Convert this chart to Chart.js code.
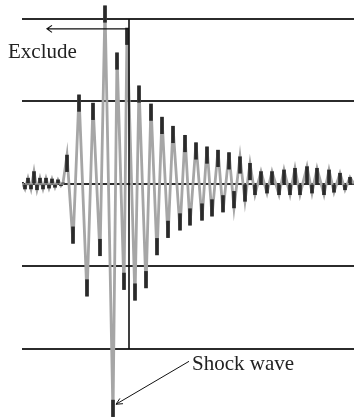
<!DOCTYPE html>
<html>
<head>
<meta charset="utf-8">
<style>
  html, body { margin: 0; padding: 0; background: #fff; }
  #wrap { width: 354px; height: 420px; position: relative; }
</style>
<script src="https://cdn.jsdelivr.net/npm/chart.js@4/dist/chart.umd.min.js"></script>
</head>
<body>
<div id="wrap"><canvas id="c" width="354" height="420"></canvas></div>
<script>
// Time of each turning point of the recorded oscillation
const sampleTimes = [
  0, 3, 6, 9, 12, 15, 18, 21, 24, 27, 30, 33, 36, 39, 41,
  45, 51, 57, 65, 71, 78, 83, 91, 95, 102, 105, 113, 117, 124, 129,
  135, 140, 146, 151, 158, 163, 168, 174, 180, 185, 190, 196, 201, 207, 212,
  218, 223, 228, 233, 239, 245, 250, 257, 262, 268, 273, 278, 285, 290, 295,
  302, 307, 312, 318, 323, 328, 332
];
// Amplitude at each turning point (one grid division = 1)
const amplitudes = [
  0.02, -0.06, 0.07, -0.06, 0.15, -0.07, 0.07, -0.06, 0.07, -0.05, 0.06, -0.04, 0.05, -0.02, 0.01,
  0.35, -0.72, 1.08, -1.36, 0.98, -0.87, 2.16, -2.82, 1.59, -1.28, 1.89, -1.41, 1.19, -1.26, 0.97,
  -0.86, 0.81, -0.65, 0.70, -0.56, 0.59, -0.50, 0.50, -0.44, 0.45, -0.39, 0.41, -0.34, 0.38, -0.29,
  0.33, -0.21, 0.25, -0.13, 0.15, -0.11, 0.15, -0.13, 0.17, -0.13, 0.19, -0.13, 0.21, -0.11, 0.19,
  -0.13, 0.17, -0.10, 0.13, -0.07, 0.08, 0.00
];
// Horizontal reference lines
const gridLevels = [-2, -1, 0, 1, 2];
// Cut-off marker between the excluded part and the rest of the record
const cutoffTime = 107;
const cutoffSpan = [2, -2];
// Annotation texts
const excludeLabel = 'Exclude';
const shockLabel = 'Shock wave';

const wavePoints = sampleTimes.map((t, i) => ({ x: t, y: amplitudes[i] }));
// Dark tips where the trace turns around
const TIP = 0.2;
const tipBars = sampleTimes.map((t, i) => {
  const v = amplitudes[i];
  const inner = v - Math.sign(v) * Math.min(TIP, Math.abs(v));
  return { x: t, y: [inner, v] };
});

const annotate = {
  id: 'annotate',
  afterDatasetsDraw(chart) {
    const { ctx } = chart;
    const X = v => chart.scales.x.getPixelForValue(v);
    const Y = v => chart.scales.y.getPixelForValue(v);
    ctx.save();
    ctx.strokeStyle = '#111';
    ctx.fillStyle = '#222';
    ctx.lineWidth = 1.2;

    // "Exclude" arrow pointing back from the cut-off
    const ay = Y(1.88);
    const ax0 = X(cutoffTime), ax1 = X(25);
    ctx.beginPath();
    ctx.moveTo(ax0, ay); ctx.lineTo(ax1, ay);
    ctx.moveTo(ax1 + 5, ay - 3.5); ctx.lineTo(ax1, ay); ctx.lineTo(ax1 + 5, ay + 3.5);
    ctx.stroke();

    // "Shock wave" arrow pointing at the downward spike
    const sx0 = X(167), sy0 = Y(-2.15);
    const sx1 = X(94), sy1 = Y(-2.67);
    ctx.lineWidth = 1;
    ctx.beginPath();
    ctx.moveTo(sx0, sy0); ctx.lineTo(sx1, sy1);
    const ang = Math.atan2(sy0 - sy1, sx0 - sx1);
    const hl = 7;
    ctx.moveTo(sx1 + hl * Math.cos(ang - 0.45), sy1 + hl * Math.sin(ang - 0.45));
    ctx.lineTo(sx1, sy1);
    ctx.lineTo(sx1 + hl * Math.cos(ang + 0.45), sy1 + hl * Math.sin(ang + 0.45));
    ctx.stroke();

    ctx.font = '21px "Liberation Serif", "Times New Roman", serif';
    ctx.textBaseline = 'alphabetic';
    ctx.textAlign = 'left';
    ctx.fillText(excludeLabel, X(-14), Y(1.53));
    ctx.fillText(shockLabel, X(170), Y(-2.25));
    ctx.restore();
  }
};

new Chart(document.getElementById('c'), {
  type: 'line',
  data: {
    datasets: [
      {
        label: 'trace',
        data: wavePoints,
        borderColor: '#a6a6a6',
        borderWidth: 2.8,
        pointRadius: 0,
        tension: 0,
        order: 3
      },
      {
        type: 'bar',
        label: 'tips',
        data: tipBars,
        backgroundColor: '#2a2a2a',
        borderWidth: 0,
        barThickness: 3,
        order: 2
      },
      {
        label: 'cutoff',
        data: cutoffSpan.map(v => ({ x: cutoffTime, y: v })),
        borderColor: '#111',
        borderWidth: 1.6,
        pointRadius: 0,
        order: 1
      }
    ]
  },
  options: {
    responsive: false,
    animation: false,
    events: [],
    layout: { padding: { left: 22, right: 0, top: 0, bottom: 0 } },
    plugins: { legend: { display: false }, tooltip: { enabled: false } },
    scales: {
      x: {
        type: 'linear',
        min: 0,
        max: 332,
        offset: false,
        display: false
      },
      y: {
        type: 'linear',
        min: -2.861,
        max: 2.230,
        afterBuildTicks(scale) {
          scale.ticks = gridLevels.map(v => ({ value: v }));
        },
        ticks: { display: false },
        border: { display: false },
        grid: { color: '#2b2b2b', lineWidth: 2, drawTicks: false }
      }
    }
  },
  plugins: [annotate]
});
</script>
</body>
</html>
